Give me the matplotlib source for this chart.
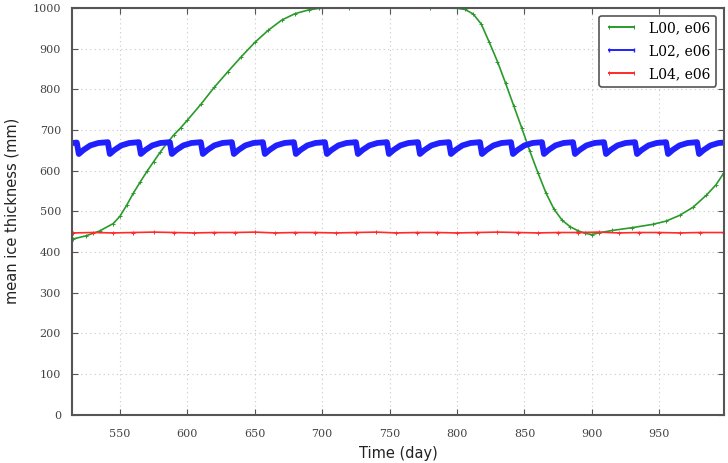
import numpy as np
import matplotlib.pyplot as plt

# L00, e06 (day, mm)
l00_day = [515, 525, 535, 545, 550, 555, 560, 565, 570, 575, 580, 585, 590, 595,
           600, 610, 620, 630, 640, 650, 660, 670, 680, 690, 698, 720, 750, 780,
           800, 806, 812, 818, 824, 830, 836, 842, 848, 854, 860, 866, 872, 878,
           884, 890, 895, 900, 905, 915, 930, 945, 955, 965, 975, 985, 992, 998]
l00_val = [432, 440, 452, 470, 488, 515, 545, 572, 598, 622, 646, 668, 688, 705,
           724, 763, 805, 843, 880, 915, 945, 970, 986, 995, 999, 1000, 1000, 1000,
           999, 996, 985, 960, 915, 868, 815, 760, 705, 648, 595, 545, 505, 478,
           462, 452, 446, 443, 447, 453, 460, 468, 476, 490, 510, 540, 565, 595]

# L02, e06 (day, mm) - sawtooth read tooth by tooth
l02_day = [515, 518, 519.5, 523, 528, 534,
           541, 542.5, 546, 551, 557,
           564, 565.5, 569, 574, 580,
           587, 588.5, 592, 597, 603,
           610, 611.5, 615, 620, 626,
           633, 634.5, 638, 643, 649,
           656, 657.5, 661, 666, 672,
           679, 680.5, 684, 689, 695,
           702, 703.5, 707, 712, 718,
           725, 726.5, 730, 735, 741,
           748, 749.5, 753, 758, 764,
           771, 772.5, 776, 781, 787,
           794, 795.5, 799, 804, 810,
           817, 818.5, 822, 827, 833,
           840, 841.5, 845, 850, 856,
           863, 864.5, 868, 873, 879,
           886, 887.5, 891, 896, 902,
           909, 910.5, 914, 919, 925,
           932, 933.5, 937, 942, 948,
           955, 956.5, 960, 965, 971,
           978, 979.5, 983, 988, 994, 998]
l02_val = [668, 669, 641, 651, 662, 668,
           670, 641, 651, 662, 668,
           670, 641, 651, 662, 668,
           670, 641, 651, 662, 668,
           670, 641, 651, 662, 668,
           670, 641, 651, 662, 668,
           670, 641, 651, 662, 668,
           670, 641, 651, 662, 668,
           670, 641, 651, 662, 668,
           670, 641, 651, 662, 668,
           670, 641, 651, 662, 668,
           670, 641, 651, 662, 668,
           670, 641, 651, 662, 668,
           670, 641, 651, 662, 668,
           670, 641, 651, 662, 668,
           670, 641, 651, 662, 668,
           670, 641, 651, 662, 668,
           670, 641, 651, 662, 668,
           670, 641, 651, 662, 668,
           670, 641, 651, 662, 668,
           670, 641, 651, 662, 668, 669]

# L04, e06 (day, mm)
l04_day = [515, 530, 545, 560, 575, 590, 605, 620, 635, 650, 665, 680, 695,
           710, 725, 740, 755, 770, 785, 800, 815, 830, 845, 860, 875, 890,
           905, 920, 935, 950, 965, 980, 998]
l04_val = [447, 448, 447, 448, 449, 448, 447, 448, 448, 449, 447, 448, 448,
           447, 448, 449, 447, 448, 448, 447, 448, 449, 448, 447, 448, 448,
           449, 447, 448, 448, 447, 448, 448]

serif = 'DejaVu Serif'

fig = plt.figure(figsize=(7.28, 4.63), dpi=100)
ax = fig.add_axes([0.099, 0.104, 0.8955, 0.879])

ax.plot(l00_day, l00_val, color='#2a9a2a', lw=1.2, marker='+', ms=2.5,
        mew=0.7, label='L00, e06')
ax.plot(l02_day, l02_val, color='#2020ff', lw=4.2, solid_joinstyle='round',
        label='L02, e06')
ax.plot(l04_day, l04_val, color='#ff2a2a', lw=1.2, marker='+', ms=2.5,
        mew=0.7, label='L04, e06')

ax.set_xlim(514.5, 998)
ax.set_ylim(0, 1000)
ax.set_xticks(np.arange(550, 951, 50))
ax.set_yticks(np.arange(0, 1001, 100))

ax.grid(True, linestyle=(0, (1, 3)), color='#c8c8c8', lw=0.8)
ax.tick_params(direction='in', top=True, right=True, length=4,
               color='#555555', labelcolor='#444444', labelsize=8)
ax.tick_params(axis='x', pad=10)
ax.tick_params(axis='y', pad=8)
for lab in ax.get_xticklabels() + ax.get_yticklabels():
    lab.set_family(serif)
for sp in ax.spines.values():
    sp.set_color('#555555')
    sp.set_linewidth(1.5)

ax.set_xlabel('Time (day)', fontsize=10.5, color='#222222', labelpad=5)
ax.set_ylabel('mean ice thickness (mm)', fontsize=10.5, color='#222222',
              labelpad=9)

leg = ax.legend(loc='upper right', prop={'family': serif, 'size': 10},
                numpoints=2, fancybox=True, framealpha=1, handlelength=2.4,
                labelspacing=0.65, borderaxespad=0.55)
leg.get_frame().set_edgecolor('#555555')
leg.get_frame().set_linewidth(1.2)
for h in leg.get_lines():
    h.set_linewidth(1.4)
    h.set_marker('|')
    h.set_markersize(3)

fig.savefig('out.png', dpi=100)
